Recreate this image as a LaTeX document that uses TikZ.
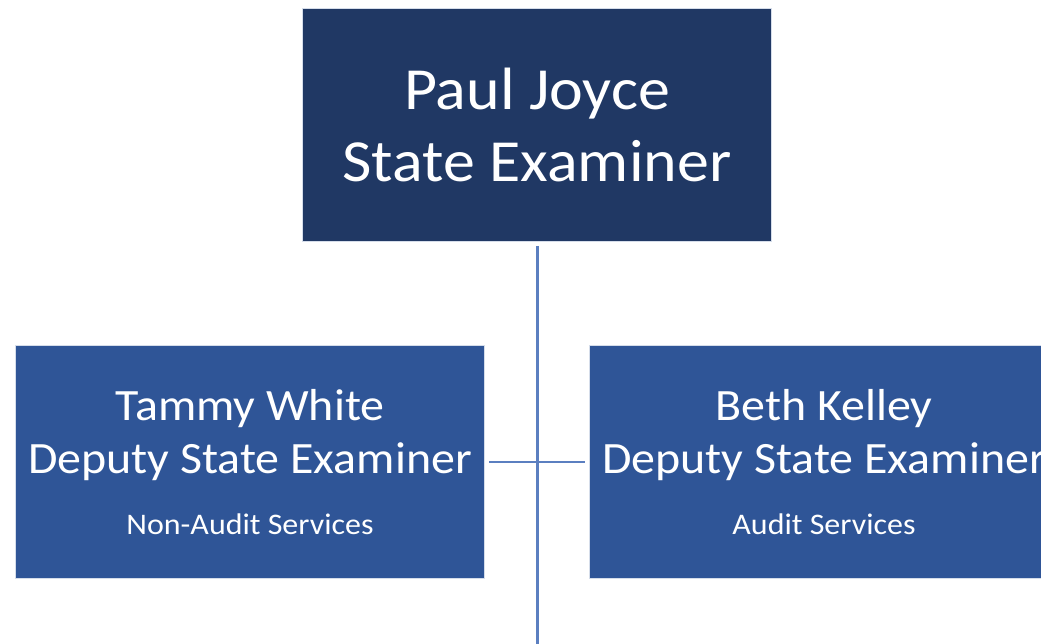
\documentclass[tikz,border=0pt]{standalone}
\usepackage{fontspec}
\setmainfont{Carlito}[FakeStretch=1.07]
\definecolor{headblue}{HTML}{203864}
\definecolor{deputyblue}{HTML}{2F5597}
\definecolor{linkblue}{HTML}{5B7FC0}
\tikzset{
  postbox/.style={draw=white!80!deputyblue,line width=0.6pt,text=white,align=center,
    minimum width=9.4cm,minimum height=4.66cm,inner sep=0pt},
  link/.style={draw=linkblue,line width=1.7pt,shorten <=2.2pt,shorten >=2.2pt}
}
\begin{document}
\begin{tikzpicture}[x=0.02cm,y=-0.02cm]
  \useasboundingbox (0,0) rectangle (1041,644);
  \clip (0,0) rectangle (1041,644);
  \node[postbox,fill=headblue,font=\fontsize{34}{40.5}\selectfont] (paul) at (537,125)
    {Paul Joyce\\State Examiner};
  \node[postbox,fill=deputyblue,font=\fontsize{25.5}{30}\selectfont] (tammy) at (250,462)
    {Tammy White\\Deputy State Examiner\\[5pt]{\fontsize{17}{20}\selectfont Non-Audit Services}};
  \node[postbox,fill=deputyblue,font=\fontsize{25.5}{30}\selectfont] (beth) at (824,462)
    {Beth Kelley\\Deputy State Examiner\\[5pt]{\fontsize{17}{20}\selectfont Audit Services}};
  \coordinate (down) at (537,650);
  \draw[link,shorten >=0pt] (paul) -- (down);
  \draw[link] (tammy) -- (beth);
\end{tikzpicture}
\end{document}
